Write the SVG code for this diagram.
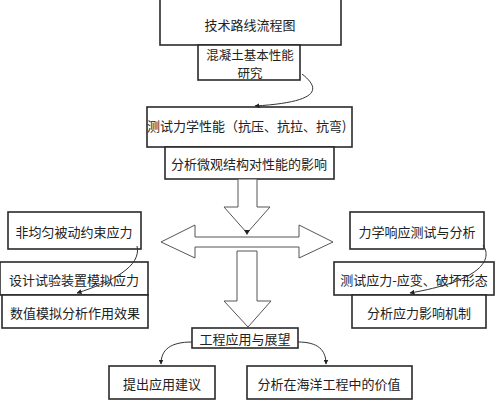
<svg xmlns="http://www.w3.org/2000/svg" width="497" height="400" viewBox="0 0 497 400">
<defs>
<style>
.box{fill:#fff;stroke:#2a2a2a;stroke-width:1.6}
.t{font-family:"Noto Sans CJK SC","Liberation Sans",sans-serif;font-size:13px;fill:#222;text-anchor:middle;dominant-baseline:central}
.big{fill:#fff;stroke:#555;stroke-width:1}
.c{fill:none;stroke:#333;stroke-width:1}
</style>
<marker id="ah" viewBox="0 0 10 10" refX="9" refY="5" markerWidth="5" markerHeight="5" orient="auto-start-reverse">
<path d="M0,0 L10,5 L0,10 z" fill="#222"/>
</marker>
</defs>
<rect width="497" height="400" fill="#fff"/>
<g id="n-title"><rect class="box" x="160" y="-1" width="181" height="46"/><text class="t" x="250" y="24">技术路线流程图</text></g>
<g id="n-basic"><rect class="box" x="198" y="45" width="102" height="35"/><text class="t" x="250" y="54" style="font-size:12.5px">混凝土基本性能</text><text class="t" x="250" y="72" style="font-size:12.5px">研究</text></g>
<g id="n-test"><rect class="box" x="147" y="107" width="205" height="40"/><text class="t" x="147" y="125" style="text-anchor:start">测试力学性能（抗压、抗拉、抗弯)</text></g>
<g id="n-micro"><rect class="box" x="165" y="147" width="169" height="32"/><text class="t" x="249" y="163">分析微观结构对性能的影响</text></g>
<g id="n-nonuni"><rect class="box" x="8" y="212" width="133" height="37"/><text class="t" x="74" y="231">非均匀被动约束应力</text></g>
<g id="n-design"><rect class="box" x="0" y="262" width="148" height="33"/><text class="t" x="74" y="279">设计试验装置模拟应力</text></g>
<g id="n-numeric"><rect class="box" x="2" y="295" width="146" height="33"/><text class="t" x="75" y="312">数值模拟分析作用效果</text></g>
<g id="n-mech"><rect class="box" x="350" y="212" width="134" height="37"/><text class="t" x="417" y="231">力学响应测试与分析</text></g>
<g id="n-strain"><rect class="box" x="334" y="262" width="160" height="33"/><text class="t" x="414" y="279">测试应力-应变、破坏形态</text></g>
<g id="n-stress"><rect class="box" x="352" y="295" width="134" height="33"/><text class="t" x="419" y="312">分析应力影响机制</text></g>
<g id="n-eng"><rect class="box" x="192" y="328" width="106" height="20"/><text class="t" x="245" y="338">工程应用与展望</text></g>
<g id="n-suggest"><rect class="box" x="109" y="366" width="106" height="33"/><text class="t" x="162" y="383">提出应用建议</text></g>
<g id="n-ocean"><rect class="box" x="247" y="366" width="165" height="33"/><text class="t" x="329" y="383">分析在海洋工程中的价值</text></g>
<g id="connectors">
<polygon class="big" points="238,179 257,179 257,207 270,207 247,233 224,207 238,207"/>
<polygon class="big" points="161,242 195,225 195,237 299,237 299,225 333,242 299,258 299,247 195,247 195,258"/>
<polygon class="big" points="237,251 257,251 257,301 271,301 248,327 224,301 237,301"/>
<path d="M244,230 L250,230 L247,235 z" fill="#222"/>
<path class="c" d="M302,74 C320,88 322,102 255,106" marker-end="url(#ah)"/>
<path class="c" d="M137,246 C142,266 112,282 77,293" marker-end="url(#ah)"/>
<path class="c" d="M483,245 C492,258 485,280 410,293" marker-end="url(#ah)"/>
<path class="c" d="M192,342 C170,342 161,350 161,364" marker-end="url(#ah)"/>
<path class="c" d="M298,342 C318,342 326,350 326,364" marker-end="url(#ah)"/>
</g>
</svg>
